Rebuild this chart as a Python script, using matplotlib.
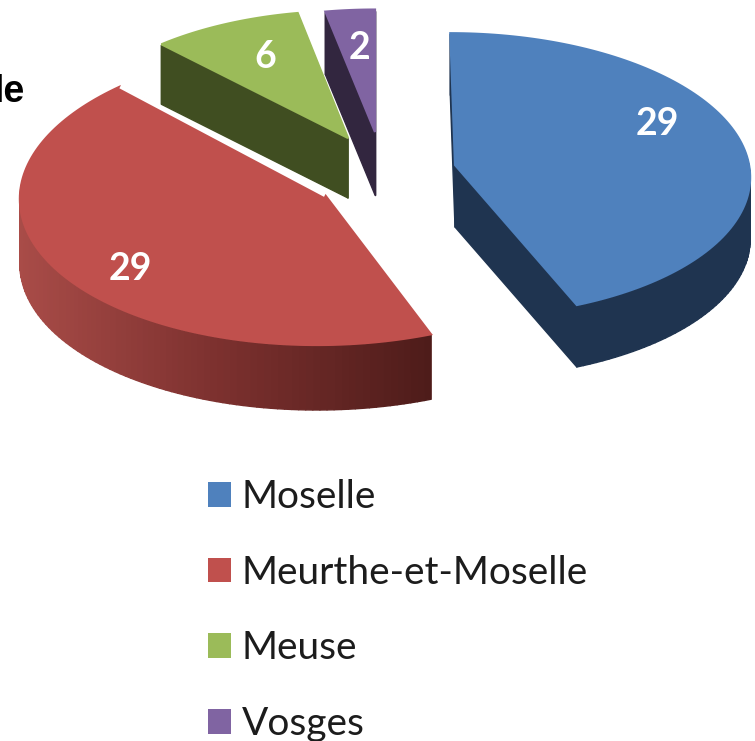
import numpy as np
import matplotlib
matplotlib.use("Agg")
import matplotlib.pyplot as plt
from matplotlib.collections import PolyCollection
from matplotlib.colors import LinearSegmentedColormap
from matplotlib.patches import Patch

plt.rcParams['font.family'] = ['Lato', 'DejaVu Sans']

departments = ['Moselle', 'Meurthe-et-Moselle', 'Meuse', 'Vosges']
counts = [29, 29, 6, 2]

top_colors = ['#4F81BD', '#C0504D', '#9BBB59', '#8064A2']
side_colors = ['#1F3450', '#7B302E', '#404E21', '#32263F']
red_wall = LinearSegmentedColormap.from_list('red_wall', ['#A94C48', '#7B302E', '#4E1C1A'])

# apex x, apex y, radius x, radius y, perspective, skew, depth (pixels of the reference)
slice_layout = [
    (455, 165, 294, 141, 0.07, -5, 62),
    (325, 195, 305, 150, 0.0, 8, 65),
    (348, 138, 284, 136, 0.07, 0, 60),
    (375, 132, 280, 131, 0.07, 0, 63),
]
label_pos = [(657, 124), (130, 269), (265, 57), (360, 48)]


def project(theta, layout):
    cx, cy, rx, ry, k, skew, depth = layout
    u, v = np.sin(theta), np.cos(theta)
    return cx + (rx * u + skew * v) / (1 + k * v), cy - ry * v / (1 + k * v)


fig = plt.figure(figsize=(7.55, 7.41), dpi=100)
ax = fig.add_axes([0, 0, 1, 1])
ax.set_xlim(0, 755)
ax.set_ylim(741, 0)
ax.axis('off')

edges = np.concatenate([[0], np.cumsum(counts)]) / sum(counts) * 2 * np.pi

# back slices first, so the big ones sit over them
for i in [3, 2, 1, 0]:
    layout = slice_layout[i]
    depth = layout[6]
    theta = np.linspace(edges[i], edges[i + 1], 120)
    x, y = project(theta, layout)
    x = np.concatenate([[layout[0]], x])
    y = np.concatenate([[layout[1]], y])

    quads = []
    colors = []
    n = len(x)
    for j in range(n):
        a, b = j, (j + 1) % n
        # walls start 1px under the top face so their strokes stay hidden
        quads.append([(x[a], y[a] + 1), (x[b], y[b] + 1), (x[b], y[b] + depth), (x[a], y[a] + depth)])
        if i == 1:
            colors.append(red_wall(np.clip((x[a] - 18) / (433 - 18), 0, 1)))
        else:
            colors.append(side_colors[i])
    ax.add_collection(PolyCollection(quads, facecolors=colors, edgecolors=colors, linewidths=1.0))
    if i == 1:
        # white seam between red top and the green wall behind it
        ax.plot(x[[0, -1]], y[[0, -1]], color='white', lw=3, solid_capstyle='butt')
    ax.fill(x, y, facecolor=top_colors[i], edgecolor=top_colors[i], lw=1.6)

for count, (lx, ly) in zip(counts, label_pos):
    ax.text(lx, ly, str(count), color='white', fontsize=27, fontweight='bold', ha='center', va='center')

ax.text(25, 102, 'le', family='Liberation Sans', fontsize=27, fontweight='bold', color='black', ha='right', va='baseline')

handles = [Patch(facecolor=c, edgecolor='none') for c in top_colors]
ax.legend(handles, departments, loc='upper left', bbox_to_anchor=(208 / 755, 1 - 479 / 741),
          frameon=False, fontsize=28, labelcolor='#1c1c1c', borderpad=0, borderaxespad=0,
          handlelength=0.59, handleheight=0.59, handletextpad=0.28, labelspacing=1.02)

fig.savefig('out.png', dpi=100)
